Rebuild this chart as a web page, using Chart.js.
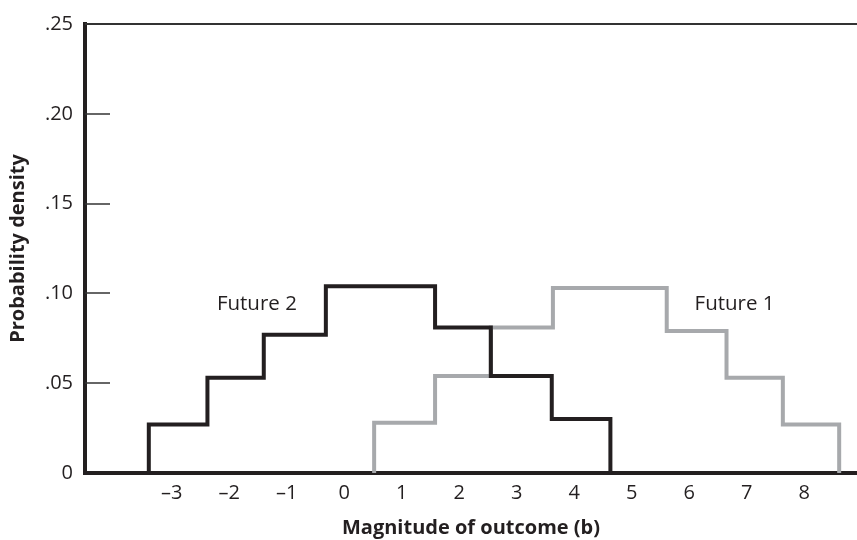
<!DOCTYPE html>
<html>
<head>
<meta charset="utf-8">
<title>Probability density of outcomes</title>
<script src="https://cdn.jsdelivr.net/npm/chart.js@4.4.1/dist/chart.umd.min.js"></script>
<style>
  html, body { margin: 0; padding: 0; background: #ffffff; }
  #wrap { width: 857px; height: 540px; position: relative; }
</style>
</head>
<body>
<div id="wrap"><canvas id="density-chart"></canvas></div>
<script>
// ======================================
// DATA
// ======================================
const xTickValues = [-3, -2, -1, 0, 1, 2, 3, 4, 5, 6, 7, 8];
const yTickValues = [0, 0.05, 0.10, 0.15, 0.20, 0.25];
const yTickLabels = ["0", ".05", ".10", ".15", ".20", ".25"];

// bin edges (b) and the density of each bin
const future2Edges = [-3.40, -2.38, -1.40, -0.32, 1.58, 2.55, 3.61, 4.63];
const future2Density = [0.027, 0.053, 0.077, 0.104, 0.081, 0.054, 0.030];
const future1Edges = [0.52, 1.58, 2.55, 3.63, 5.61, 6.65, 7.63, 8.61];
const future1Density = [0.028, 0.054, 0.081, 0.103, 0.079, 0.053, 0.027];

const seriesNames = ["Future 2", "Future 1"];

const INK = "#231f20";
const GREY = "#a7a9ac";
const FONT = "'Open Sans', 'Noto Sans', sans-serif";

// turn edges + densities into points for a stepped line
function stepPoints(edges, density) {
    const pts = [{ x: edges[0], y: 0 }];
    density.forEach(function (d, i) {
        pts.push({ x: edges[i + 1], y: d });
    });
    pts.push({ x: edges[edges.length - 1], y: 0 });
    return pts;
}

// -----------------------------------------
// top rule, inward y ticks, series labels
// -----------------------------------------
const labelSpots = [
    { text: seriesNames[0], x: -1.52, y: 0.094 },
    { text: seriesNames[1], x: 6.79, y: 0.094 }
];

const frameExtras = {
    id: "frameExtras",
    afterDraw: function (chart) {
        const ctx = chart.ctx;
        const area = chart.chartArea;
        const xs = chart.scales.x;
        const ys = chart.scales.y;
        ctx.save();

        ctx.strokeStyle = "#333333";
        ctx.lineWidth = 2;
        ctx.beginPath();
        ctx.moveTo(area.left, area.top);
        ctx.lineTo(area.right, area.top);
        ctx.stroke();

        ctx.lineWidth = 1.5;
        yTickValues.forEach(function (v) {
            if (v <= 0 || v >= 0.25) return;
            const y = Math.round(ys.getPixelForValue(v));
            ctx.beginPath();
            ctx.moveTo(area.left, y);
            ctx.lineTo(area.left + 25, y);
            ctx.stroke();
        });

        ctx.fillStyle = INK;
        ctx.font = "20.5px " + FONT;
        ctx.textAlign = "center";
        ctx.textBaseline = "middle";
        labelSpots.forEach(function (l) {
            ctx.fillText(l.text, xs.getPixelForValue(l.x), ys.getPixelForValue(l.y));
        });
        ctx.restore();
    }
};

new Chart(document.getElementById("density-chart"), {
    type: "line",
    data: {
        datasets: [
            {
                label: seriesNames[0],
                data: stepPoints(future2Edges, future2Density),
                stepped: "after",
                borderColor: INK,
                borderWidth: 4,
                borderJoinStyle: "miter",
                pointRadius: 0,
                fill: false,
                order: 0
            },
            {
                label: seriesNames[1],
                data: stepPoints(future1Edges, future1Density),
                stepped: "after",
                borderColor: GREY,
                borderWidth: 4,
                borderJoinStyle: "miter",
                pointRadius: 0,
                fill: false,
                order: 1
            }
        ]
    },
    options: {
        responsive: true,
        maintainAspectRatio: false,
        animation: false,
        layout: { padding: { top: 16, right: 0, left: 0, bottom: 0 } },
        plugins: {
            legend: { display: false },
            tooltip: { enabled: false }
        },
        scales: {
            x: {
                type: "linear",
                min: -4.51,
                max: 8.92,
                afterBuildTicks: function (scale) {
                    scale.ticks = xTickValues.map(function (v) { return { value: v }; });
                },
                afterFit: function (scale) { scale.height = 67; },
                grid: { display: false, drawTicks: false },
                border: { display: true, width: 4, color: INK },
                ticks: {
                    color: INK,
                    padding: 8,
                    maxRotation: 0,
                    font: { family: FONT, size: 20 },
                    callback: function (value) {
                        return value < 0 ? "\u2013" + Math.abs(value) : String(value);
                    }
                },
                title: {
                    display: true,
                    text: "Magnitude of outcome (b)",
                    color: INK,
                    padding: { top: 0, bottom: 0 },
                    font: { family: FONT, size: 20, weight: "bold" }
                }
            },
            y: {
                type: "linear",
                min: 0,
                max: 0.25,
                afterBuildTicks: function (scale) {
                    scale.ticks = yTickValues.map(function (v) { return { value: v }; });
                },
                afterFit: function (scale) { scale.width = 85; },
                grid: { display: false, drawTicks: false },
                border: { display: true, width: 4, color: INK },
                ticks: {
                    color: INK,
                    padding: 12,
                    font: { family: FONT, size: 20 },
                    callback: function (value, index) {
                        return yTickLabels[index];
                    }
                },
                title: {
                    display: true,
                    text: "Probability density",
                    color: INK,
                    padding: { top: 6, bottom: 0 },
                    font: { family: FONT, size: 20, weight: "bold" }
                }
            }
        }
    },
    plugins: [frameExtras]
});
</script>
</body>
</html>
